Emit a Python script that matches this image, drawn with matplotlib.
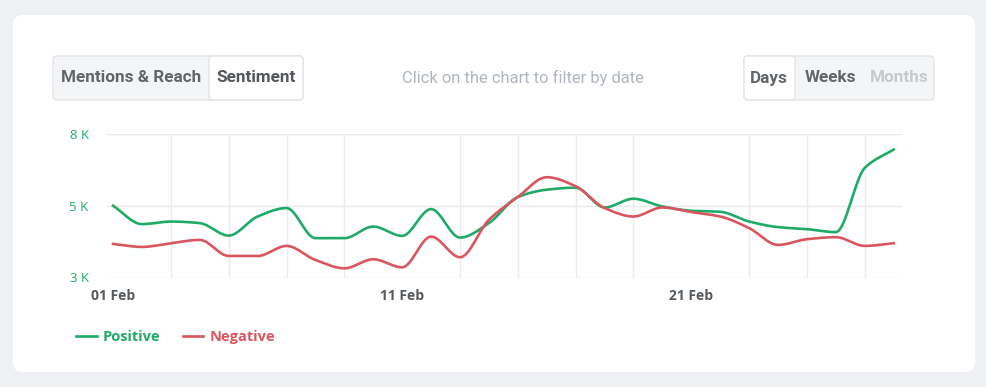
import numpy as np
import matplotlib
matplotlib.use("Agg")
import matplotlib.pyplot as plt
from matplotlib.patches import FancyBboxPatch
from matplotlib.transforms import IdentityTransform
from matplotlib.ticker import FuncFormatter


# daily sentiment counts, February
days = list(range(1, 29))
positive = [5000, 4360, 4450, 4395, 3960, 4625, 4920, 3870, 3870, 4275,
            3950, 4885, 3890, 4395, 5305, 5560, 5630, 4940, 5245, 4975,
            4825, 4790, 4450, 4255, 4185, 4080, 6320, 6960]
negative = [3670, 3565, 3695, 3810, 3250, 3250, 3600, 3110, 2820, 3135,
            2855, 3925, 3205, 4510, 5305, 5995, 5680, 4920, 4625, 4940,
            4780, 4625, 4220, 3635, 3835, 3905, 3600, 3695]
tick_days = [1, 11, 21]
tick_labels = ["01 Feb", "11 Feb", "21 Feb"]
y_ticks = [2500, 5000, 7500]

GREEN = "#1fab67"
RED = "#d9565f"
W, H = 987, 387


def smooth(x, y, num=400):
    # monotone cubic (pchip-like) curve through the daily points
    x = np.asarray(x, float)
    y = np.asarray(y, float)
    h = np.diff(x)
    d = np.diff(y) / h
    n = len(x)
    m = np.zeros(n)
    m[0], m[-1] = d[0], d[-1]
    for k in range(1, n - 1):
        if d[k - 1] * d[k] > 0:
            w1 = 2 * h[k] + h[k - 1]
            w2 = h[k] + 2 * h[k - 1]
            m[k] = (w1 + w2) / (w1 / d[k - 1] + w2 / d[k])
    xs = np.linspace(x[0], x[-1], num)
    idx = np.clip(np.searchsorted(x, xs) - 1, 0, n - 2)
    t = (xs - x[idx]) / h[idx]
    h00 = 2 * t**3 - 3 * t**2 + 1
    h10 = t**3 - 2 * t**2 + t
    h01 = -2 * t**3 + 3 * t**2
    h11 = t**3 - t**2
    ys = h00 * y[idx] + h10 * h[idx] * m[idx] + h01 * y[idx + 1] + h11 * h[idx] * m[idx + 1]
    return xs, ys


def box(fig, x0, y0, x1, y1, fc, ec="none", r=4, lw=1.0):
    # pixel box, top-left origin
    p = FancyBboxPatch((x0 + r, H - y1 + r), (x1 - x0) - 2 * r, (y1 - y0) - 2 * r,
                       boxstyle=f"round,pad={r}", fc=fc, ec=ec, lw=lw,
                       transform=IdentityTransform(), zorder=-5)
    fig.patches.append(p)


def label(fig, x, y, s, **kw):
    fig.text(x / W, 1 - y / H, s, ha="center", va="center", **kw)


fig = plt.figure(figsize=(W / 100, H / 100), dpi=100)
fig.patch.set_facecolor("#eef0f3")

# card
box(fig, 13, 15, 975, 372, "white", r=10)

# button groups
box(fig, 53, 56, 303, 100, "#f4f5f7", ec="#e2e4e8", r=4)
box(fig, 209, 56, 303, 100, "white", ec="#e2e4e8", r=4)
box(fig, 744, 56, 934, 100, "#f4f5f7", ec="#e2e4e8", r=4)
box(fig, 744, 56, 795, 100, "white", ec="#e2e4e8", r=4)

btn = dict(family="Roboto", fontsize=12.3, fontweight="bold")
label(fig, 131, 78, "Mentions & Reach", color="#62666b", **btn)
label(fig, 256, 78, "Sentiment", color="#53575c", **btn)
label(fig, 769, 78, "Days", color="#62666b", **btn)
label(fig, 830, 78, "Weeks", color="#62666b", **btn)
label(fig, 899, 78, "Months", color="#c6cacf", **btn)
label(fig, 523, 78, "Click on the chart to filter by date", color="#b0b6bd",
      family="Roboto", fontsize=11.9)

# chart
left, right, top, bottom = 106.7, 901.5, 134, 277.5
ax = fig.add_axes([left / W, 1 - bottom / H, (right - left) / W, (bottom - top) / H])
ax.set_facecolor("none")

xs, ys = smooth(days, positive)
ax.plot(xs, ys, color=GREEN, lw=1.9, label="Positive", zorder=3)
xs, ys = smooth(days, negative)
ax.plot(xs, ys, color=RED, lw=1.9, label="Negative", zorder=3)

ax.set_xlim(0.78, 28.27)
ax.set_ylim(y_ticks[0], y_ticks[-1])
ax.set_yticks(y_ticks)
ax.yaxis.set_major_formatter(FuncFormatter(lambda v, p: f"{int(v / 1000 + 0.5)} K"))
ax.set_xticks(tick_days)
ax.set_xticklabels(tick_labels)
ax.set_xticks(days[::2], minor=True)

for s in ax.spines.values():
    s.set_visible(False)
ax.grid(axis="y", color="#e9eaec", lw=1.0)
ax.grid(axis="x", which="minor", color="#ececee", lw=1.0)
ax.set_axisbelow(True)

ax.tick_params(axis="both", which="both", length=0)
ax.tick_params(axis="y", pad=13, labelcolor=GREEN, labelsize=9.5)
ax.tick_params(axis="x", pad=8, labelcolor="#555a5f", labelsize=10)
for t in ax.get_xticklabels():
    t.set_fontweight("bold")
    t.set_family("Open Sans")
for t in ax.get_yticklabels():
    t.set_family("Open Sans")

leg = ax.legend(loc="center left", bbox_to_anchor=(63 / W, 1 - 337 / H),
                bbox_transform=fig.transFigure, ncol=2, frameon=False,
                handlelength=1.4, handletextpad=0.45, columnspacing=1.5,
                labelcolor="linecolor",
                prop={"family": "Open Sans", "weight": "bold", "size": 10.5})

fig.savefig("out.png", dpi=100, facecolor=fig.get_facecolor())
